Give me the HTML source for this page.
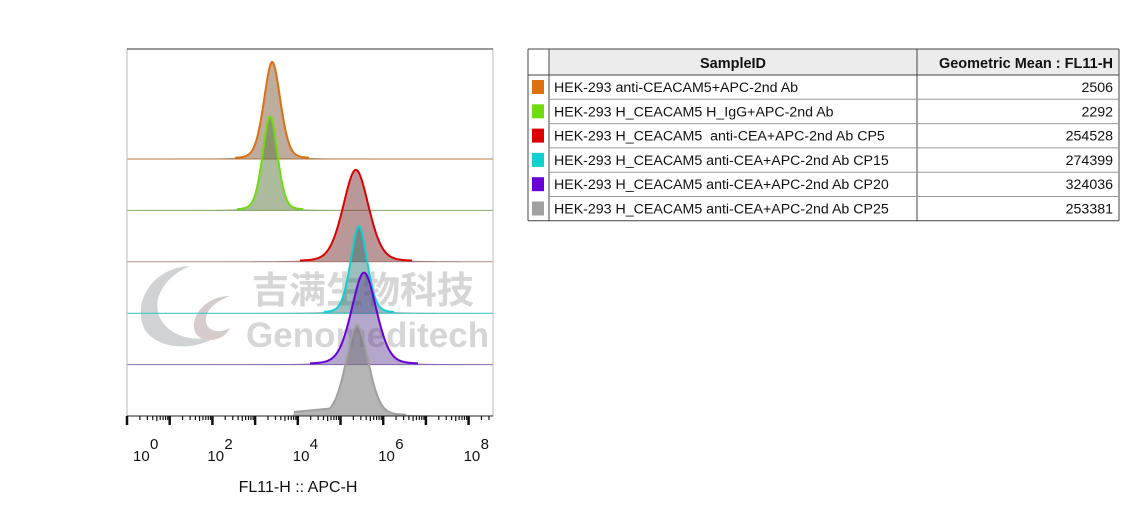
<!DOCTYPE html>
<html><head><meta charset="utf-8"><style>
body{margin:0;background:#fff;width:1147px;height:518px;overflow:hidden;font-family:"Liberation Sans",Arial,sans-serif}
svg{position:absolute;left:0;top:0}
</style></head><body>
<svg width="1147" height="518">
<g id="wm" opacity="0.85">
 <path d="M190 266 C150 268 132 305 145 330 C160 352 200 350 218 335 C198 343 170 338 160 318 C150 295 170 274 190 266 Z" fill="#c8cccc"/>
 <path d="M230 296 C205 296 188 318 196 334 C205 345 225 340 230 328 C218 335 204 330 206 318 C208 306 220 300 230 296 Z" fill="#d0c4c4"/>
 <text x="252" y="303" font-family="'Noto Sans CJK SC',sans-serif" font-weight="bold" font-size="37" fill="#cfcfcf">吉满生物科技</text>
 <text x="246" y="347" font-family="'Liberation Sans',sans-serif" font-weight="bold" font-size="35" fill="#cfcfcf">Genomeditech</text>
</g>
<g id="plot"></g>
<rect x="127" y="49" width="366" height="367" fill="none" stroke="#bbb" stroke-width="1"/>
<line x1="127" y1="49" x2="493" y2="49" stroke="#333"/>
<g id="axis"></g>
<text x="298" y="492" text-anchor="middle" font-size="16" fill="#111">FL11-H :: APC-H</text>
<g id="table"></g>
</svg>
<script>
const NS="http://www.w3.org/2000/svg";
const samples=["HEK-293 anti-CEACAM5+APC-2nd Ab","HEK-293 H_CEACAM5 H_IgG+APC-2nd Ab","HEK-293 H_CEACAM5  anti-CEA+APC-2nd Ab CP5","HEK-293 H_CEACAM5 anti-CEA+APC-2nd Ab CP15","HEK-293 H_CEACAM5 anti-CEA+APC-2nd Ab CP20","HEK-293 H_CEACAM5 anti-CEA+APC-2nd Ab CP25"];
const geoMeans=["2506","2292","254528","274399","324036","253381"];
const peakLog=[3.4,3.35,5.36,5.43,5.55,5.39];
const peakSigma=[0.2,0.18,0.31,0.2,0.3,0.27];
const peakHeight=[97,94,92,87,92,91];
const tickLabels=["0","2","4","6","8"];
const colors=["#dd7010","#6edc10","#dd0000","#10d0d0","#6a00d8","#a0a0a0"];
const fills=["rgba(125,90,60,0.5)","rgba(90,120,60,0.5)","rgba(120,50,50,0.5)","rgba(40,110,110,0.45)","rgba(90,60,140,0.45)","rgba(120,120,120,0.55)"];
const lineCols=["#b87838","#8aaa6a","#b89494","#30c8c8","#9070b8","#888"];
const X0=127,DEC=42.7,BOT=416,LANE=51.4;
const xs=v=>X0+v*DEC;
function mk(t,a,p){const e=document.createElementNS(NS,t);for(const k in a)e.setAttribute(k,a[k]);p.appendChild(e);return e;}
const plot=document.getElementById('plot');
function shape(z){return Math.exp(-0.5*z*z)*0.75+0.25/(1+z*z);}
for(let i=0;i<samples.length;i++){
 const base=BOT-(samples.length-1-i)*LANE;
 const pts=[];
 for(let px=X0;px<=493;px+=1){
  const v=(px-X0)/DEC;const z=(v-peakLog[i])/peakSigma[i];
  let h=peakHeight[i]*shape(z);
  if(i==5&&v>3.9&&v<peakLog[i])h=Math.max(h,4+4*(v-3.9));
  pts.push([px,h]);
 }
 if(i<5){const ln=mk('line',{x1:X0,y1:base,x2:493,y2:base,stroke:lineCols[i],'stroke-width':1},plot);
 
 }
 let d=`M${X0} ${base}`;pts.forEach(p=>d+=` L${p[0]} ${(base-p[1]).toFixed(2)}`);d+=` L493 ${base} Z`;
 const f=mk('path',{d:d,fill:fills[i],stroke:'none'},plot);
 
 
 const on=pts.filter(p=>p[1]>1.2);
 let s='';on.forEach((p,k)=>s+=(k?' L':'M')+p[0]+' '+(base-p[1]).toFixed(2));
 const p=mk('path',{d:s,fill:'none',stroke:colors[i],'stroke-width':2},plot);
 
 
}
const ax=document.getElementById('axis');
const al=mk('line',{x1:X0,y1:BOT,x2:493,y2:BOT,stroke:'#222','stroke-width':1},ax);


for(let dcd=0;dcd<9;dcd++){
 for(let m=1;m<=9;m++){
  const v=dcd+Math.log10(m);const x=xs(v);if(x>492)break;
  const len=m==1?9:(m==5?5:4);
  const t=mk('line',{x1:x,y1:BOT,x2:x,y2:BOT+len,stroke:'#111','stroke-width':m==1?2.5:1.2},ax);
  
  
 }
}
tickLabels.forEach(s=>{
 const tx=xs(+s);const x0=s=="0"?133:tx-5;
 const t=mk('text',{x:x0,y:461,'font-size':15,fill:'#111'},ax);
 t.textContent='10';
 
 
 const e=mk('text',{x:x0+17,y:449,'font-size':15,fill:'#111'},ax);
 e.textContent=s;
 
 
});
const tb=document.getElementById('table');
const TX=528,TY=49,HH=26,RH=24.3,C1=549,C2=917,TR=1119;
const hb=mk('rect',{x:C1,y:TY,width:TR-C1,height:HH,fill:'#ececec'},tb);


const tbot=TY+HH+RH*6;
[[TX,TY,TR,TY],[TX,TY+HH,TR,TY+HH],[TX,tbot,TR,tbot],[TX,TY,TX,tbot],[C1,TY,C1,tbot],[C2,TY,C2,tbot],[TR,TY,TR,tbot]].forEach(l=>{
 const e=mk('line',{x1:l[0],y1:l[1],x2:l[2],y2:l[3],stroke:'#444','stroke-width':1},tb);
 
 
});
const h1=mk('text',{x:(C1+C2)/2,y:TY+19,'text-anchor':'middle','font-size':14.5,'font-weight':'bold',fill:'#111'},tb);h1.textContent='SampleID';


const h2=mk('text',{x:TR-6,y:TY+19,'text-anchor':'end','font-size':14.5,'font-weight':'bold',fill:'#111'},tb);h2.textContent='Geometric Mean : FL11-H';


samples.forEach((s,i)=>{
 const y=TY+HH+RH*i;
 if(i<5){const l=mk('line',{x1:C1,y1:y+RH,x2:TR,y2:y+RH,stroke:'#999','stroke-width':1},tb);
 
 }
 const sw=mk('rect',{x:TX+4,y:y+5,width:12,height:14,fill:colors[i]},tb);
 
 
 const t=mk('text',{x:C1+5,y:y+17,'font-size':14.2,fill:'#111'},tb);t.textContent=s;
 t.style.whiteSpace='pre';
 
 
 const g=mk('text',{x:TR-6,y:y+17,'text-anchor':'end','font-size':14.2,fill:'#111'},tb);g.textContent=geoMeans[i];
 
 
});
</script>
</body></html>
